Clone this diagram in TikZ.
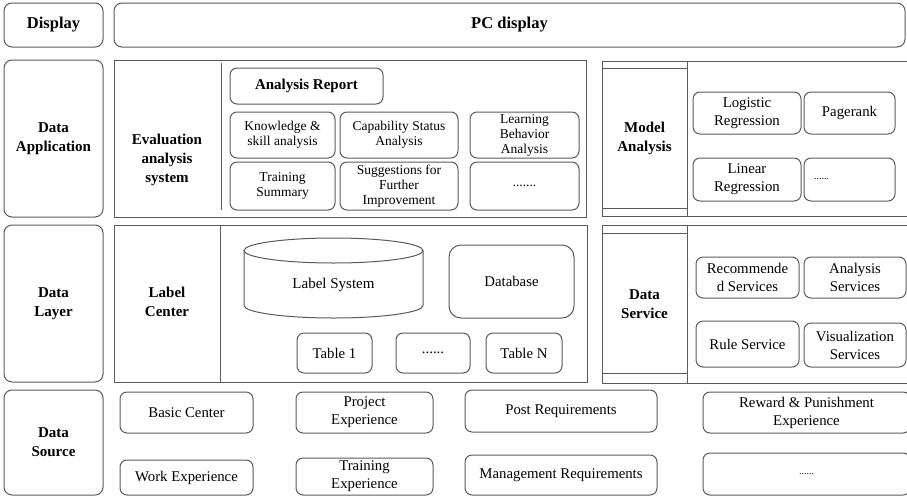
\documentclass[tikz,border=0pt]{standalone}
\usepackage{fontspec}
\setmainfont{Liberation Serif}
\usepackage{tikz}

\definecolor{linegray}{RGB}{90,90,90}

\tikzset{
  boxline/.style={draw=linegray, line width=1pt},
  layerbox/.style={boxline, rounded corners=8pt, align=center, inner sep=0pt,
    font=\fontsize{15}{19}\selectfont\bfseries},
  groupbox/.style={boxline, inner sep=0pt},
  titletext/.style={align=center, inner sep=0pt, font=\fontsize{15}{19}\selectfont\bfseries},
  itembox/.style={boxline, rounded corners=7pt, align=center, inner sep=0pt,
    font=\fontsize{14.8}{18}\selectfont},
  evalbox/.style={itembox, font=\fontsize{13.5}{15}\selectfont},
  dotsbox/.style={itembox, font=\fontsize{10}{12}\selectfont}
}

\begin{document}
\begin{tikzpicture}[x=1pt, y=-1pt]
\useasboundingbox (0,0) rectangle (907,496);
\clip (0,0) rectangle (907,496);

% display layer
\node[layerbox, minimum width=99, minimum height=44, font=\fontsize{16.5}{19}\selectfont\bfseries] (display) at (53.5,25) {Display};
\node[layerbox, minimum width=791, minimum height=44, font=\fontsize{16.5}{19}\selectfont\bfseries] (pcdisplay) at (509.5,25) {PC display};

% data application
\node[layerbox, minimum width=99, minimum height=157] (application) at (53.5,138.5) {Data\\Application};
\node[groupbox, minimum width=472, minimum height=157] (evalgroup) at (350,138.5) {};
\node[titletext] (evaltitle) at (167,160) {Evaluation\\analysis\\system};
\draw[boxline] (221,63) -- (221,210);
\node[itembox, minimum width=153, minimum height=36, font=\fontsize{15}{18}\selectfont\bfseries] (report) at (306.5,86) {Analysis Report};
\node[evalbox, minimum width=105, minimum height=46] (knowledge) at (282.5,135) {Knowledge \&\\skill analysis};
\node[evalbox, minimum width=118, minimum height=46] (capability) at (399,135) {Capability Status\\Analysis};
\node[evalbox, minimum width=109, minimum height=46] (learning) at (524.5,135) {Learning\\Behavior\\Analysis};
\node[evalbox, minimum width=105, minimum height=48] (training) at (282.5,186) {Training\\Summary};
\node[evalbox, minimum width=118, minimum height=48] (suggestions) at (399,186) {Suggestions for\\Further\\Improvement};
\node[evalbox, minimum width=109, minimum height=48] (evaldots) at (524.5,186) {.......};

\node[groupbox, minimum width=310, minimum height=155] (modelgroup) at (757,138.5) {};
\node[groupbox, titletext, minimum width=85, minimum height=155] (modelcol) at (644.5,138.5) {Model\\Analysis};
\draw[boxline] (602,68) -- (687,68) (602,208) -- (687,208);
\node[itembox, minimum width=108, minimum height=42] (logistic) at (747,113) {Logistic\\Regression};
\node[itembox, minimum width=91, minimum height=42] (pagerank) at (849.5,113) {Pagerank};
\node[itembox, minimum width=108, minimum height=43] (linear) at (747,179.5) {Linear\\Regression};
\node[dotsbox, minimum width=91, minimum height=43, text width=71, align=left] (modeldots) at (849.5,179.5) {......};

% data layer
\node[layerbox, minimum width=99, minimum height=157] (datalayer) at (53.5,303.5) {Data\\Layer};
\node[groupbox, minimum width=473, minimum height=157] (labelgroup) at (350.5,303.5) {};
\draw[boxline] (220,225) -- (220,382);
\node[titletext] (labeltitle) at (167,302) {Label\\Center};
\draw[boxline] (244,250.5) -- (244,305.5) arc[start angle=180, end angle=0, x radius=89.5, y radius=12.5] -- (423,250.5);
\draw[boxline] (333.5,250.5) ellipse [x radius=89.5, y radius=12.5];
\node[font=\fontsize{15}{18}\selectfont] (labelsystem) at (333.5,285) {Label System};
\node[itembox, rounded corners=12pt, minimum width=125, minimum height=73] (database) at (511.5,281.5) {Database};
\node[itembox, minimum width=75, minimum height=40] (tableone) at (334.5,353) {Table 1};
\node[itembox, minimum width=74, minimum height=40] (tabledots) at (433,353) {......};
\node[itembox, minimum width=76, minimum height=40] (tablen) at (524,353) {Table N};

\node[groupbox, minimum width=310, minimum height=158] (servicegroup) at (757,304) {};
\node[groupbox, titletext, minimum width=85, minimum height=158] (servicecol) at (644.5,304) {Data\\Service};
\draw[boxline] (602,233) -- (687,233) (602,373) -- (687,373);
\node[itembox, minimum width=103, minimum height=41] (recommended) at (747.5,277.5) {Recommende\\d Services};
\node[itembox, minimum width=102, minimum height=41] (analysissvc) at (855,277.5) {Analysis\\Services};
\node[itembox, minimum width=103, minimum height=46] (rulesvc) at (747.5,344) {Rule Service};
\node[itembox, minimum width=102, minimum height=44] (visualsvc) at (855,345) {Visualization\\Services};

% data source
\node[layerbox, minimum width=99, minimum height=105] (datasource) at (53.5,442.5) {Data\\Source};
\node[itembox, minimum width=133, minimum height=41] (basic) at (186.5,412.5) {Basic Center};
\node[itembox, minimum width=133, minimum height=35] (work) at (186.5,477.5) {Work Experience};
\node[itembox, minimum width=137, minimum height=41] (project) at (364.5,412.5) {Project\\Experience};
\node[itembox, minimum width=137, minimum height=37] (trainexp) at (364.5,476.5) {Training\\Experience};
\node[itembox, minimum width=192, minimum height=42] (post) at (561,411) {Post Requirements};
\node[itembox, minimum width=192, minimum height=40] (management) at (561,475) {Management Requirements};
\node[itembox, minimum width=207, minimum height=41] (reward) at (806.5,412.5) {Reward \& Punishment\\Experience};
\node[dotsbox, minimum width=207, minimum height=42] (sourcedots) at (806.5,474) {......};
\end{tikzpicture}
\end{document}
